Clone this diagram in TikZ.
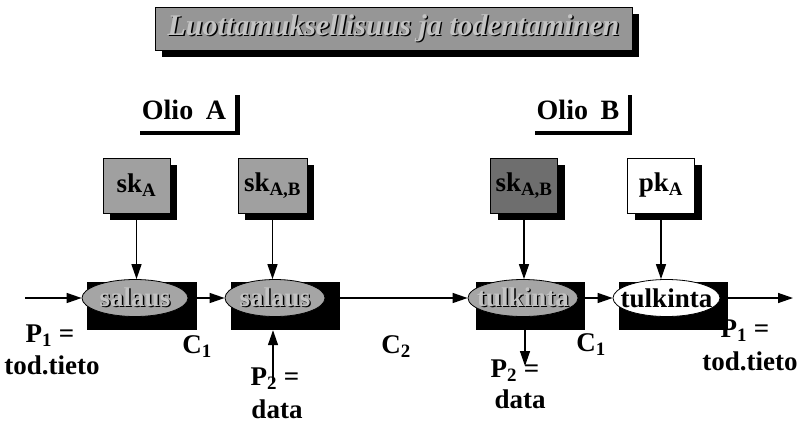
\documentclass[tikz,border=0pt]{standalone}
\usepackage{fontspec}
\setmainfont{Liberation Serif}
\usetikzlibrary{arrows.meta,shapes.geometric,shadows}

\definecolor{titlegrey}{RGB}{150,150,150}
\definecolor{keygrey}{RGB}{160,160,160}
\definecolor{keydark}{RGB}{110,110,110}
\definecolor{ellgrey}{RGB}{165,165,165}
\definecolor{textlight}{RGB}{195,195,195}

% light text with a black copy offset behind it
\newcommand\embossed[2]{\leavevmode\rlap{\kern1.4pt\raisebox{-1.4pt}{\color{black}#2}}{\color{#1}#2}}

\begin{document}
\begin{tikzpicture}[x=1pt,y=-1pt,
  font=\fontsize{27}{29}\selectfont\bfseries,
  flow/.style={line width=1.4pt,-{Triangle[length=15pt,width=10pt]}},
  hardshadow/.style={drop shadow={shadow xshift=#1,shadow yshift=-#1,fill=black,opacity=1}},
  keybox/.style={draw=black,line width=1pt,fill=keygrey,minimum width=67pt,
    minimum height=55pt,inner sep=0pt,hardshadow=7pt},
  backbox/.style={fill=black,minimum width=110pt,minimum height=48pt,inner sep=0pt},
  opbox/.style={ellipse,draw=black,line width=0.8pt,fill=ellgrey,minimum width=106pt,
    minimum height=37pt,inner sep=0pt},
  label/.style={inner sep=0pt},
  objlabel/.style={font=\fontsize{28}{30}\selectfont\bfseries,inner sep=0pt},
  frameline/.style={line width=4.5pt}
]
\useasboundingbox (0,0) rectangle (798,424);

% heading
\node[draw=black,line width=0.6pt,fill=titlegrey,minimum width=477pt,minimum height=43pt,
      inner sep=0pt,hardshadow=6.5pt] (title) at (393.5,28.5)
  {\fontsize{30}{32}\selectfont\bfseries\itshape\embossed{textlight}{Luottamuksellisuus ja todentaminen}};

% object headings with their corner frames
\node[objlabel] (olioA) at (184,110) {Olio\hspace{0.45em}A};
\draw[frameline] (140,133) -| (237.5,95);
\node[objlabel] (olioB) at (578,110) {Olio\hspace{0.45em}B};
\draw[frameline] (535,133) -| (630,95);

% keys
\node[keybox] (kA) at (136.5,185.5) {sk\textsubscript{A}};
\node[keybox,minimum width=69pt] (kAB) at (272.5,185.5) {sk\textsubscript{A,B}};
\node[keybox,fill=keydark] (kBAB) at (524,185.5) {sk\textsubscript{A,B}};
\node[keybox,fill=white] (pkA) at (661,185.5) {pk\textsubscript{A}};

% black blocks behind the operations
\node[backbox] (r1) at (142,306) {};
\node[backbox,minimum width=109pt] (r2) at (285.5,306) {};
\node[backbox,minimum width=109pt] (r3) at (530.5,306) {};
\node[backbox,minimum width=109pt] (r4) at (673.5,306) {};

% operations
\node[opbox] (e1) at (135,298) {\makebox[0pt]{\embossed{textlight}{salaus}}};
\node[opbox,minimum width=100pt] (e2) at (275,298) {\makebox[0pt]{\embossed{textlight}{salaus}}};
\node[opbox,minimum width=110pt] (e3) at (523,298) {\makebox[0pt]{\embossed{textlight}{tulkinta}}};
\node[opbox,fill=white,minimum width=107pt] (e4) at (666.5,298) {\makebox[0pt]{tulkinta}};

% key inputs
\draw[flow] (kA.south) -- (kA.south |- e1.north);
\draw[flow] (kAB.south) -- (kAB.south |- e2.north);
\draw[flow] (kBAB.south) -- (kBAB.south |- e3.north);
\draw[flow] (pkA.south) -- (pkA.south |- e4.north);

% main data path
\coordinate (in) at (25,298);
\coordinate (out) at (793,298);
\draw[flow] (in) -- (e1.west);
\draw[flow] (r1.east |- e2.west) -- (e2.west);
\draw[flow] (r2.east |- e3.west) -- (e3.west);
\draw[flow] (r3.east |- e4.west) -- (e4.west);
\draw[flow] (r4.east |- out) -- (out);

% side data in and out
\coordinate (p2in) at (273,383);
\coordinate (p2out) at (525,366);
\draw[flow] (p2in) -- (p2in |- r2.south);
\draw[flow] (p2out |- r3.south) -- (p2out);

% labels
\node[label] (lP1a) at (50,336) {P\textsubscript{1} =};
\node[label] (lT1a) at (52,365) {tod.tieto};
\node[label] (lC1a) at (197,347) {C\textsubscript{1}};
\node[label] (lC2) at (396,347) {C\textsubscript{2}};
\node[label] (lP2a) at (275,379) {P\textsubscript{2} =};
\node[label] (lDa) at (277,409) {data};
\node[label] (lC1b) at (591,345) {C\textsubscript{1}};
\node[label] (lP2b) at (515,371) {P\textsubscript{2} =};
\node[label] (lDb) at (520,399) {data};
\node[label] (lP1b) at (745,331) {P\textsubscript{1} =};
\node[label] (lT1b) at (750,361) {tod.tieto};
\end{tikzpicture}
\end{document}
